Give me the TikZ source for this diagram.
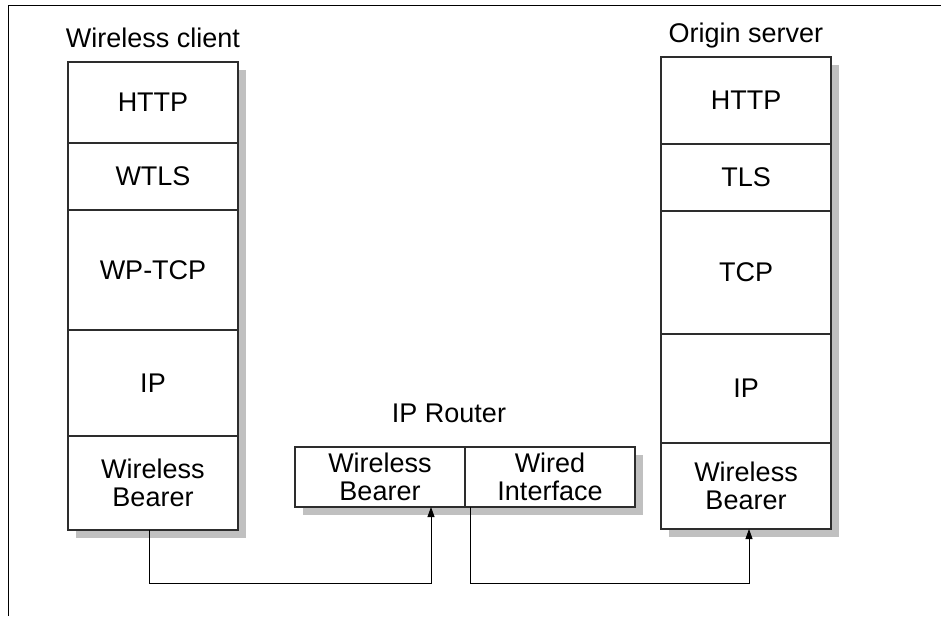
\documentclass[tikz,border=0pt]{standalone}
\usepackage{fontspec}
\setmainfont{Liberation Sans}
\usetikzlibrary{positioning,arrows.meta,backgrounds,calc}
\definecolor{boxline}{RGB}{45,45,45}
\definecolor{shadowgray}{RGB}{192,192,192}
\tikzset{
  layer/.style={rectangle,draw=boxline,line width=1.1pt,fill=white,minimum width=170pt,align=center,inner sep=2pt,outer sep=0pt},
  title/.style={anchor=base,inner sep=0pt},
  dropshadow/.style={fill=shadowgray},
  link/.style={line width=0.9pt},
  linkarrow/.style={-{Triangle[length=10pt,width=7pt]},line width=0.9pt}
}
\begin{document}
\begin{tikzpicture}[x=1pt,y=-1pt,font=\fontsize{27}{28}\selectfont]
  \useasboundingbox (0,0) rectangle (941,616);
  \draw[line width=1pt] (8,616) |- (941,5);

  % client stack
  \node[layer,minimum height=81pt,anchor=north] (cHTTP) at (153,62) {HTTP};
  \node[layer,minimum height=67pt,below=0pt of cHTTP] (cWTLS) {WTLS};
  \node[layer,minimum height=120pt,below=0pt of cWTLS] (cTCP) {WP-TCP};
  \node[layer,minimum height=106pt,below=0pt of cTCP] (cIP) {IP};
  \node[layer,minimum height=94pt,below=0pt of cIP] (cWB) {Wireless\\Bearer};
  \node[title] (ctitle) at ([yshift=15pt]cHTTP.north) {Wireless client};

  % router
  \node[layer,minimum height=60pt,anchor=north west] (rWB) at (295,447) {Wireless\\Bearer};
  \node[layer,minimum height=60pt,right=0pt of rWB] (rWI) {Wired\\Interface};
  \node[title] (rtitle) at ([xshift=-16pt,yshift=25pt]rWB.north east) {IP Router};

  % server stack
  \node[layer,minimum height=87pt,anchor=north] (sHTTP) at (746,57) {HTTP};
  \node[layer,minimum height=67pt,below=0pt of sHTTP] (sTLS) {TLS};
  \node[layer,minimum height=123pt,below=0pt of sTLS] (sTCP) {TCP};
  \node[layer,minimum height=109pt,below=0pt of sTCP] (sIP) {IP};
  \node[layer,minimum height=86pt,below=0pt of sIP] (sWB) {Wireless\\Bearer};
  \node[title] (stitle) at ([yshift=15pt]sHTTP.north) {Origin server};

  \begin{scope}[on background layer]
    \fill[dropshadow] ([xshift=8pt,yshift=-8pt]cWB.south west) rectangle ([xshift=8pt,yshift=-8pt]cHTTP.north east);
    \fill[dropshadow] ([xshift=8pt,yshift=-8pt]rWB.south west) rectangle ([xshift=8pt,yshift=-8pt]rWI.north east);
    \fill[dropshadow] ([xshift=8pt,yshift=-8pt]sWB.south west) rectangle ([xshift=8pt,yshift=-8pt]sHTTP.north east);
  \end{scope}

  % connections
  \coordinate (bus) at (0,583);
  \coordinate (cout) at ([xshift=-4pt]cWB.south);
  \coordinate (rin) at ([xshift=-34pt]rWB.south east);
  \coordinate (rout) at ([xshift=5pt]rWI.south west);
  \coordinate (sin) at ([xshift=3pt]sWB.south);
  \draw[linkarrow] (cout) |- (bus -| rin) -- (rin);
  \draw[linkarrow] (rout) |- (bus -| sin) -- (sin);
\end{tikzpicture}
\end{document}
